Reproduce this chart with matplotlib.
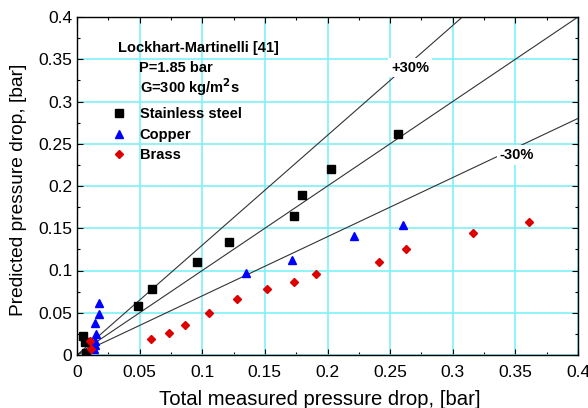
import numpy as np
import matplotlib.pyplot as plt
from matplotlib.ticker import MultipleLocator, FuncFormatter

plt.rcParams['font.family'] = ['Liberation Sans', 'DejaVu Sans']

# measured / predicted pressure drop, bar
steel_x = [0.005, 0.006, 0.007, 0.049, 0.060, 0.096, 0.121, 0.173, 0.180, 0.203, 0.256]
steel_y = [0.022, 0.015, 0.002, 0.058, 0.078, 0.110, 0.134, 0.165, 0.189, 0.220, 0.261]
copper_x = [0.0178, 0.0173, 0.0141, 0.0149, 0.0144, 0.0144, 0.0136, 0.135, 0.172, 0.221, 0.260]
copper_y = [0.062, 0.0485, 0.0375, 0.0245, 0.0160, 0.0120, 0.0070, 0.097, 0.113, 0.141, 0.154]
brass_x = [0.0104, 0.0110, 0.059, 0.0735, 0.0865, 0.105, 0.128, 0.152, 0.173, 0.191,
           0.241, 0.263, 0.316, 0.361]
brass_y = [0.017, 0.007, 0.019, 0.026, 0.035, 0.050, 0.066, 0.078, 0.086, 0.096,
           0.110, 0.125, 0.144, 0.157]

bands = [1.3, 1.0, 0.7]
ticks = [0, 0.05, 0.1, 0.15, 0.2, 0.25, 0.3, 0.35, 0.4]

fig = plt.figure(figsize=(5.88, 4.08), dpi=100)
ax = fig.add_axes([77 / 588, 53 / 408, 501 / 588, 338 / 408])

xx = np.linspace(0, 0.4, 50)
for k in bands:
    ax.plot(xx, k * xx, color='#333333', lw=0.8, zorder=2)

ax.plot(steel_x, steel_y, 's', color='black', ms=5.5, ls='none', label='Stainless steel', zorder=3)
ax.plot(copper_x, copper_y, '^', color='#0000ff', ms=6, ls='none', label='Copper', zorder=3)
ax.plot(brass_x, brass_y, 'D', color='#dd0000', ms=3.6, ls='none', label='Brass', zorder=3)

ax.text(0.266, 0.340, '+30%', fontsize=10.5, fontweight='bold', ha='center', va='center',
        bbox=dict(facecolor='white', edgecolor='none', pad=2), zorder=4)
ax.text(0.351, 0.237, '-30%', fontsize=10.5, fontweight='bold', ha='center', va='center',
        bbox=dict(facecolor='white', edgecolor='none', pad=2), zorder=4)

ax.set_xlim(0, 0.4)
ax.set_ylim(0, 0.4)
ax.set_xticks(ticks)
ax.set_yticks(ticks)
fmt = FuncFormatter(lambda v, p: '%g' % round(v, 3))
ax.xaxis.set_major_formatter(fmt)
ax.yaxis.set_major_formatter(fmt)
ax.xaxis.set_minor_locator(MultipleLocator(0.025))
ax.yaxis.set_minor_locator(MultipleLocator(0.025))
ax.tick_params(which='both', direction='in', top=True, right=True, labelsize=12.5)
ax.tick_params(which='major', length=4, width=0.8)
ax.tick_params(which='minor', length=2.5, width=0.8)
ax.tick_params(axis='x', pad=7)
ax.grid(True, which='major', color='#7ff0f8', lw=1.2, zorder=0)
ax.set_axisbelow(True)
for s in ax.spines.values():
    s.set_linewidth(1.0)

ax.set_xlabel('Total measured pressure drop, [bar]', fontsize=14.6, labelpad=3)
ax.xaxis.set_label_coords(0.485, -0.105)
ax.set_ylabel('Predicted pressure drop, [bar]', fontsize=13.8)
ax.yaxis.set_label_coords(-0.1, 0.49)

ax.text(0.082, 0.909, 'Lockhart-Martinelli [41]', transform=ax.transAxes,
        fontsize=10.5, fontweight='bold', va='center')
ax.text(0.124, 0.850, 'P=1.85 bar', transform=ax.transAxes,
        fontsize=10.5, fontweight='bold', va='center')
ax.text(0.126, 0.793, 'G=300 kg/m$^{\\mathbf{2}}$s', transform=ax.transAxes,
        fontsize=10.5, fontweight='bold', va='center')

ax.legend(loc='upper left', bbox_to_anchor=(0.055, 0.755), frameon=False,
          prop=dict(size=10.5, weight='bold'), handlelength=1.0, handletextpad=0.9,
          labelspacing=0.45, borderpad=0)

fig.savefig('out.png', dpi=100)
